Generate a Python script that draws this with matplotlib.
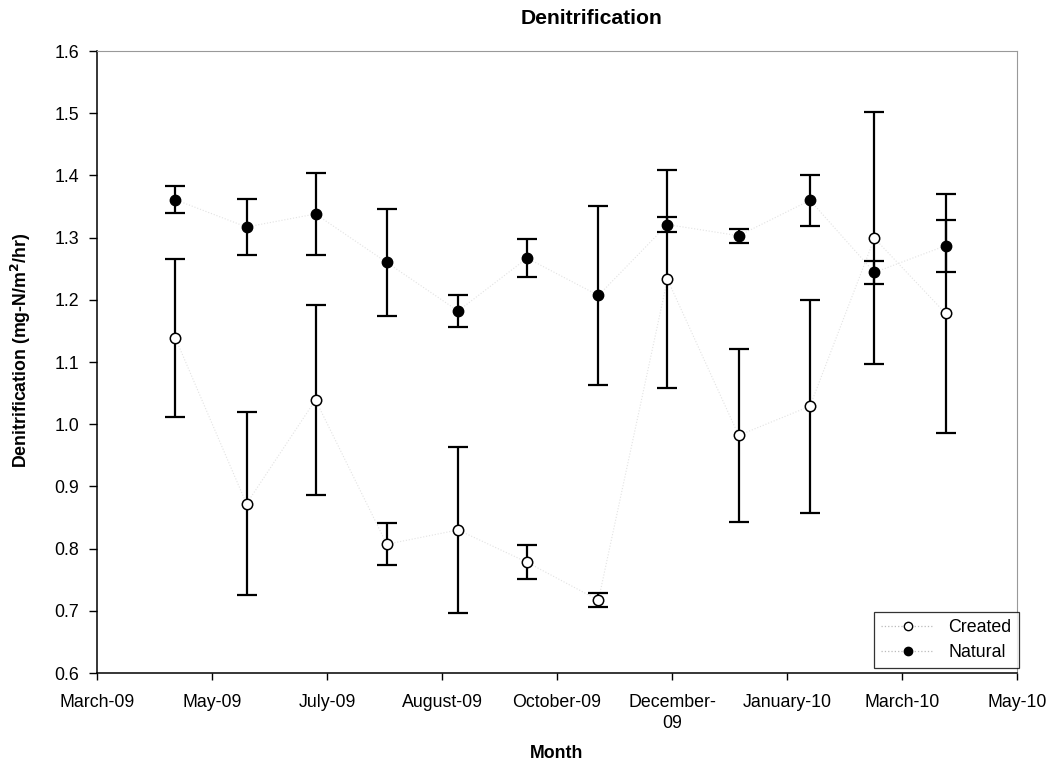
import matplotlib
matplotlib.use("Agg")
import matplotlib.pyplot as plt
import matplotlib.dates as mdates
import numpy as np
from datetime import datetime, timedelta
from matplotlib.lines import Line2D

plt.rcParams['font.family'] = ['Liberation Sans', 'DejaVu Sans']

# ---- data ----
sample_dates = ['2009-05-01', '2009-06-01', '2009-07-01', '2009-08-01', '2009-09-01',
                '2009-10-01', '2009-11-01', '2009-12-01', '2010-01-01', '2010-02-01',
                '2010-03-01', '2010-04-01']
created_mean = [1.139, 0.872, 1.039, 0.807, 0.830, 0.778, 0.717, 1.233, 0.982, 1.029, 1.299, 1.178]
created_err = [0.127, 0.147, 0.153, 0.034, 0.133, 0.027, 0.011, 0.175, 0.139, 0.171, 0.203, 0.192]
natural_mean = [1.361, 1.317, 1.338, 1.260, 1.182, 1.267, 1.207, 1.321, 1.303, 1.360, 1.244, 1.287]
natural_err = [0.022, 0.045, 0.066, 0.086, 0.025, 0.030, 0.144, 0.012, 0.011, 0.041, 0.018, 0.042]
tick_labels = ['March-09', 'May-09', 'July-09', 'August-09', 'October-09',
               'December-\n09', 'January-10', 'March-10', 'May-10']
axis_start = '2009-03-28'
tick_step_days = 50

x = mdates.date2num([datetime.strptime(d, '%Y-%m-%d') for d in sample_dates])
start = datetime.strptime(axis_start, '%Y-%m-%d')
tick_pos = mdates.date2num([start + timedelta(days=tick_step_days * i) for i in range(len(tick_labels))])

fig = plt.figure(figsize=(10.52, 7.70), dpi=100)
ax = fig.add_axes([97 / 1052, 1 - 673 / 770, 920 / 1052, 622 / 770])

fs = 12.8
line_col = '#e2e2e2'

# faint connecting lines
ax.plot(x, created_mean, linestyle=':', color=line_col, lw=0.8, zorder=1)
ax.plot(x, natural_mean, linestyle=':', color=line_col, lw=0.8, zorder=1)

ax.errorbar(x, created_mean, yerr=created_err, fmt='none', ecolor='black',
            elinewidth=1.6, capsize=7, capthick=1.6, zorder=2)
ax.errorbar(x, natural_mean, yerr=natural_err, fmt='none', ecolor='black',
            elinewidth=1.6, capsize=7, capthick=1.6, zorder=2)
ax.plot(x, natural_mean, linestyle='none', marker='o', markersize=7.5,
        markerfacecolor='black', markeredgecolor='black', zorder=3)
ax.plot(x, created_mean, linestyle='none', marker='o', markersize=7.5,
        markerfacecolor='white', markeredgecolor='black', markeredgewidth=1.1, zorder=4)

ax.set_xlim(tick_pos[0], tick_pos[-1])
ax.set_ylim(0.6, 1.6)
ax.set_xticks(tick_pos)
ax.set_xticklabels(tick_labels, fontsize=fs, linespacing=1.35)
ax.set_yticks(np.arange(0.6, 1.61, 0.1))
ax.set_yticklabels([f'{v:.1f}' for v in np.arange(0.6, 1.61, 0.1)], fontsize=fs)
ax.tick_params(axis='x', direction='out', length=5, width=1, pad=10)
ax.tick_params(axis='y', direction='out', length=6, width=1, pad=7)

for s in ['left', 'bottom']:
    ax.spines[s].set_color('black')
    ax.spines[s].set_linewidth(1.1)
for s in ['top', 'right']:
    ax.spines[s].set_color('#999999')
    ax.spines[s].set_linewidth(0.8)

# legend handles
h1 = Line2D([], [], linestyle=':', color='#bbbbbb', lw=0.9, marker='o', markersize=6,
            markerfacecolor='white', markeredgecolor='black')
h2 = Line2D([], [], linestyle=':', color='#bbbbbb', lw=0.9, marker='o', markersize=6,
            markerfacecolor='black', markeredgecolor='black')
leg = ax.legend([h1, h2], ['Created', 'Natural'], loc='lower right',
                bbox_to_anchor=(1.002, 0.008), borderaxespad=0, fontsize=fs,
                frameon=True, fancybox=False, handlelength=3.0, handletextpad=0.8,
                borderpad=0.4, labelspacing=0.45)
leg.get_frame().set_edgecolor('black')
leg.get_frame().set_linewidth(0.9)

fig.text(591 / 1052, 1 - 18 / 770, 'Denitrification', ha='center', va='center',
         fontsize=15.2, fontweight='bold')
fig.text(557 / 1052, 1 - 754 / 770, 'Month', ha='center', va='center',
         fontsize=fs, fontweight='bold')
fig.text(21 / 1052, 1 - 350 / 770, 'Denitrification (mg-N/m$^\\mathbf{2}$/hr)',
         ha='center', va='center', rotation=90, fontsize=fs, fontweight='bold')

fig.savefig('out.png', dpi=100)
